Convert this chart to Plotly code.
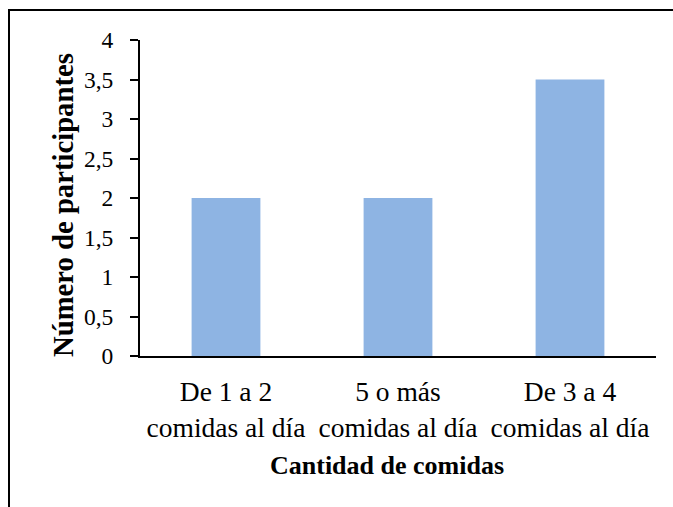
import plotly.graph_objects as go

categories = ["De 1 a 2<br>comidas al día", "5 o más<br>comidas al día", "De 3 a 4<br>comidas al día"]
values = [2, 2, 3.5]
y_ticks = [0, 0.5, 1, 1.5, 2, 2.5, 3, 3.5, 4]
y_ticktext = ["0", "0,5", "1", "1,5", "2", "2,5", "3", "3,5", "4"]

FONT = "Times New Roman, Liberation Serif, serif"
W, H = 673, 507
L, R, T, B = 140, 17, 40, 151
pw, ph = W - L - R, H - T - B

fig = go.Figure(go.Bar(x=categories, y=values, marker_color="#8EB4E3", marker_line_width=0))

fig.update_layout(
    width=W, height=H,
    margin=dict(l=L, r=R, t=T, b=B, pad=0),
    plot_bgcolor="white", paper_bgcolor="white",
    bargap=0.6,
    showlegend=False,
    font=dict(family=FONT, color="black"),
)
fig.update_yaxes(
    range=[0, 4], tickvals=y_ticks, ticktext=y_ticktext,
    showgrid=False, zeroline=False,
    showline=True, linecolor="black", linewidth=2,
    ticks="outside", ticklen=8, tickwidth=2, tickcolor="black",
    tickfont=dict(size=23.5, family=FONT), ticklabelstandoff=12,
)
fig.update_xaxes(
    showgrid=False, zeroline=False,
    showline=True, linecolor="black", linewidth=2,
    ticks="", tickfont=dict(size=27.5, family=FONT), ticklabelstandoff=10,
)

# x-axis line extension to the left (as in the reference)
fig.add_shape(type="line", xref="paper", yref="paper",
              x0=-8 / pw, x1=0, y0=0, y1=0, line=dict(color="black", width=2))

# Axis titles
fig.add_annotation(text="<b>Cantidad de comidas</b>", xref="paper", yref="paper",
                   x=(386.5 - L) / pw, y=-(465 - (T + ph)) / ph, showarrow=False,
                   font=dict(size=26, family=FONT), xanchor="center", yanchor="middle")
fig.add_annotation(text="<b>Número de participantes</b>", xref="paper", yref="paper",
                   x=(63 - L) / pw, y=((T + ph) - 205) / ph, showarrow=False, textangle=-90,
                   font=dict(size=28.7, family=FONT), xanchor="center", yanchor="middle")

# Chart border (left and top visible)
fig.add_shape(type="rect", xref="paper", yref="paper",
              x0=(9 - L) / pw, x1=(W + 10 - L) / pw,
              y0=-(H + 10 - (T + ph)) / ph, y1=((T + ph) - 10) / ph,
              line=dict(color="black", width=2), fillcolor="rgba(0,0,0,0)", layer="below")

fig.write_html("out.html", config={"displayModeBar": False},
               post_script="document.body.style.margin='0';")
